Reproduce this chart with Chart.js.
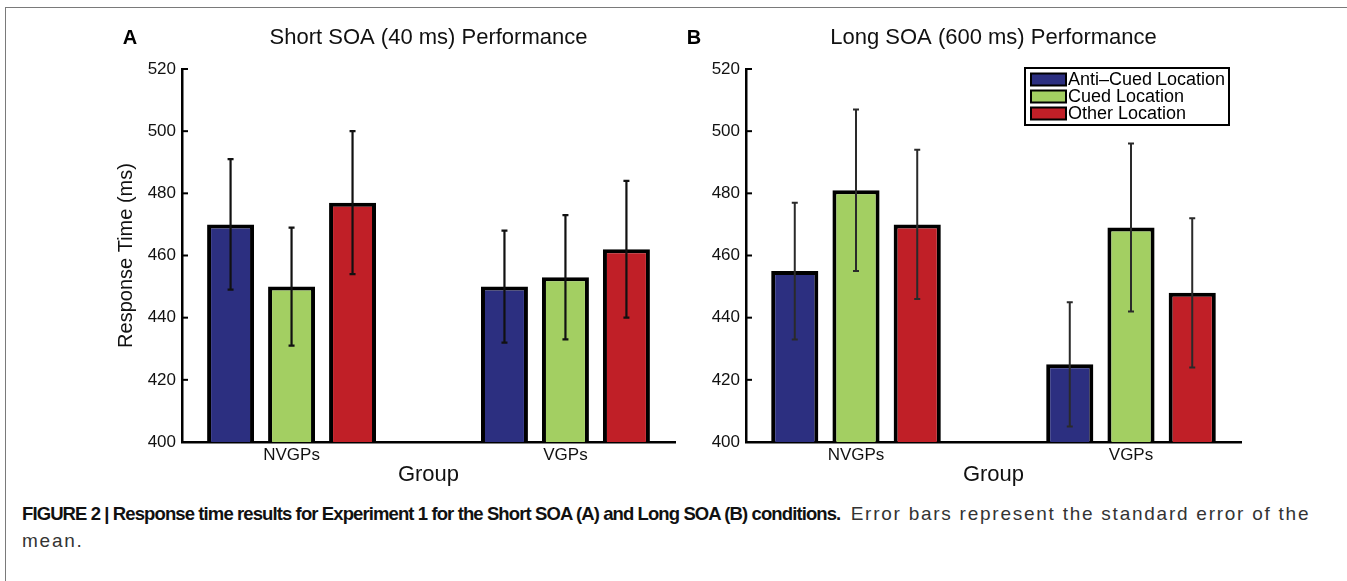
<!DOCTYPE html>
<html>
<head>
<meta charset="utf-8">
<script src="https://cdn.jsdelivr.net/npm/chart.js@4.4.0/dist/chart.umd.min.js"></script>
<style>
  body { margin: 0; background: #fff; width: 1347px; height: 581px; overflow: hidden; position: relative;
         font-family: "Liberation Sans", Arial, Helvetica, sans-serif; }
  .frame-top { position: absolute; left: 5px; top: 7px; right: 0; border-top: 1.5px solid #7a7a7a; }
  .frame-left { position: absolute; left: 5px; top: 7px; bottom: 0; border-left: 1.5px solid #7a7a7a; }
  #panelA { position: absolute; left: 0; top: 0; }
  #panelB { position: absolute; left: 660px; top: 0; }
  .caption { position: absolute; left: 22px; top: 500px; width: 1322px; font-size: 18.5px; line-height: 27px; color: #333; white-space: normal; }
  .caption b { color: #111; letter-spacing: -0.9px; }
  .caption span { font-size: 19px; letter-spacing: 1.75px; }
</style>
</head>
<body>
<div class="frame-top"></div>
<div class="frame-left"></div>
<canvas id="panelA" width="690" height="500"></canvas>
<canvas id="panelB" width="600" height="500"></canvas>
<div class="caption"><b>FIGURE 2 | Response time results for Experiment 1 for the Short SOA (A) and Long SOA (B) conditions.</b>&nbsp; <span>Error bars represent the standard error of the mean.</span></div>

<script>
const groups = ['NVGPs', 'VGPs'];
const groupPos = [1, 2];
const seriesNames = ['Anti\u2013Cued Location', 'Cued Location', 'Other Location'];
const seriesColors = ['#2c2f80', '#a3cf62', '#c01f27'];

// Short SOA (40 ms): means and standard errors, per group
const shortAnti = [470, 450];
const shortCued = [450, 453];
const shortOther = [477, 462];
const shortAntiErr = [21, 18];
const shortCuedErr = [19, 20];
const shortOtherErr = [23, 22];

// Long SOA (600 ms)
const longAnti = [455, 425];
const longCued = [481, 469];
const longOther = [470, 448];
const longAntiErr = [22, 20];
const longCuedErr = [26, 27];
const longOtherErr = [24, 24];

const yMin = 400, yMax = 520, yStep = 20;

const FONT = '"Liberation Sans", Arial, Helvetica, sans-serif';

const errorBars = {
  id: 'errorBars',
  afterDatasetsDraw(chart, args, opts) {
    const { ctx } = chart;
    const y = chart.scales.y;
    ctx.save();
    ctx.strokeStyle = opts.color;
    ctx.lineWidth = opts.width;
    chart.data.datasets.forEach((ds, i) => {
      chart.getDatasetMeta(i).data.forEach((bar, j) => {
        const v = ds.data[j].y, e = ds.errors[j];
        const top = y.getPixelForValue(v + e);
        const bot = y.getPixelForValue(v - e);
        ctx.beginPath();
        ctx.moveTo(bar.x, top); ctx.lineTo(bar.x, bot);
        ctx.moveTo(bar.x - opts.cap, top); ctx.lineTo(bar.x + opts.cap, top);
        ctx.moveTo(bar.x - opts.cap, bot); ctx.lineTo(bar.x + opts.cap, bot);
        ctx.stroke();
      });
    });
    ctx.restore();
  }
};

// matlab style ticks pointing into the plot + the panel letter
const axisDecor = {
  id: 'axisDecor',
  afterDraw(chart, args, opts) {
    const { ctx, chartArea } = chart;
    const y = chart.scales.y;
    ctx.save();
    ctx.strokeStyle = '#000';
    ctx.lineWidth = 2;
    y.ticks.forEach(t => {
      const py = y.getPixelForValue(t.value);
      ctx.beginPath();
      ctx.moveTo(chartArea.left, py);
      ctx.lineTo(chartArea.left + 6, py);
      ctx.stroke();
    });
    ctx.fillStyle = '#000';
    ctx.font = 'bold 20px ' + FONT;
    ctx.textAlign = 'center';
    ctx.textBaseline = 'middle';
    ctx.fillText(opts.letter, chartArea.left + opts.letterDx, 38);
    ctx.restore();
  }
};

const boxLegend = {
  id: 'boxLegend',
  afterDatasetsDraw(chart, args, opts) {
    if (!opts.show) return;
    const { ctx, chartArea } = chart;
    const w = 204, h = 57;
    const left = chartArea.right - 12 - w, top = chartArea.top - 1;
    ctx.save();
    ctx.fillStyle = '#fff';
    ctx.fillRect(left, top, w, h);
    ctx.strokeStyle = '#000';
    ctx.lineWidth = 2;
    ctx.strokeRect(left, top, w, h);
    ctx.font = '18px ' + FONT;
    ctx.textBaseline = 'middle';
    chart.data.datasets.forEach((ds, i) => {
      const cy = top + 11.5 + i * 17;
      ctx.fillStyle = ds.backgroundColor;
      ctx.fillRect(left + 6, cy - 6, 35, 12);
      ctx.lineWidth = 2;
      ctx.strokeRect(left + 6, cy - 6, 35, 12);
      ctx.fillStyle = '#000';
      ctx.fillText(ds.label, left + 43, cy + 1);
    });
    ctx.restore();
  }
};

function makePanel(id, title, series, errs, cfg) {
  const datasets = series.map((vals, i) => ({
    label: seriesNames[i],
    data: groupPos.map((x, j) => ({ x, y: vals[j] })),
    errors: errs[i],
    backgroundColor: seriesColors[i],
    borderColor: '#000',
    borderWidth: 4,
    borderSkipped: false,
    categoryPercentage: 0.668,
    barPercentage: 0.77
  }));

  return new Chart(document.getElementById(id), {
    type: 'bar',
    data: { datasets },
    plugins: [errorBars, axisDecor, boxLegend],
    options: {
      responsive: false,
      animation: false,
      layout: { padding: { left: cfg.padLeft, right: cfg.padRight, top: 0, bottom: 8 } },
      scales: {
        x: {
          type: 'linear',
          min: 0.6,
          max: 2.4,
          offset: false,
          afterBuildTicks: s => { s.ticks = groupPos.map(v => ({ value: v })); },
          afterFit: s => { s.height = 50; },
          grid: { display: false, drawTicks: false },
          border: { display: true, color: '#000', width: 2.5 },
          ticks: {
            padding: 3,
            color: '#111',
            font: { family: FONT, size: 17 },
            callback: v => groups[groupPos.indexOf(v)]
          },
          title: {
            display: true,
            text: 'Group',
            color: '#111',
            font: { family: FONT, size: 22 },
            padding: { top: 0, bottom: 3.8 }
          }
        },
        y: {
          min: yMin,
          max: yMax,
          afterFit: s => { s.width = cfg.yWidth; },
          grid: { display: false, drawTicks: false },
          border: { display: true, color: '#000', width: 2.5 },
          ticks: {
            stepSize: yStep,
            padding: 6,
            color: '#111',
            font: { family: FONT, size: 17 }
          },
          title: {
            display: cfg.yTitle,
            text: 'Response Time (ms)',
            color: '#111',
            font: { family: FONT, size: 20 },
            padding: { top: 14, bottom: 0 }
          }
        }
      },
      plugins: {
        legend: { display: false },
        tooltip: { enabled: false },
        title: {
          display: true,
          text: title,
          fullSize: false,
          color: '#111',
          font: { family: FONT, size: 22, weight: 'normal' },
          padding: { top: 25, bottom: 17.6 }
        },
        errorBars: { color: cfg.errColor, width: cfg.errWidth, cap: 3 },
        axisDecor: { letter: cfg.letter, letterDx: -52 },
        boxLegend: { show: cfg.legend }
      }
    }
  });
}

makePanel('panelA', 'Short SOA (40 ms) Performance',
  [shortAnti, shortCued, shortOther],
  [shortAntiErr, shortCuedErr, shortOtherErr],
  { padLeft: 100, padRight: 15, yWidth: 82, yTitle: true, letter: 'A', legend: false, errColor: '#111', errWidth: 2.2 });

makePanel('panelB', 'Long SOA (600 ms) Performance',
  [longAnti, longCued, longOther],
  [longAntiErr, longCuedErr, longOtherErr],
  { padLeft: 0, padRight: 19, yWidth: 86, yTitle: false, letter: 'B', legend: true, errColor: '#2a2a2a', errWidth: 2 });
</script>
</body>
</html>
